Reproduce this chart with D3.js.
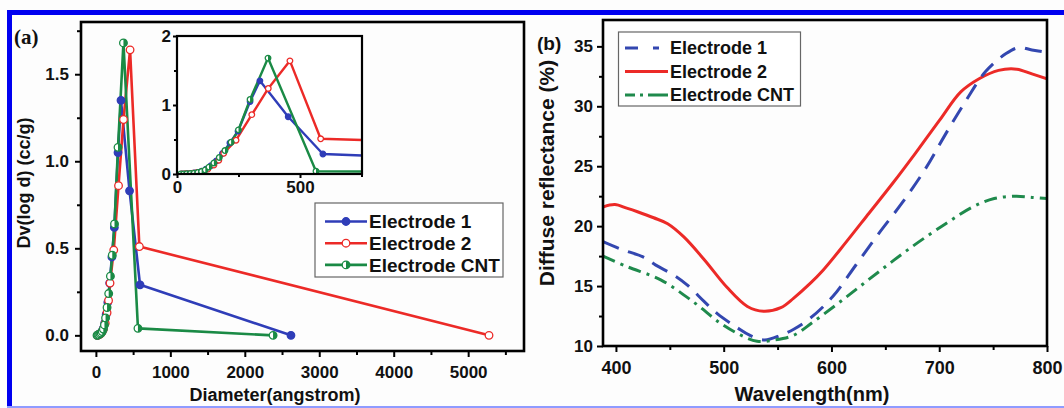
<!DOCTYPE html>
<html><head><meta charset="utf-8">
<script src="https://cdn.jsdelivr.net/npm/d3@7"></script>
<style>
body{margin:0;background:#fff;}
svg{display:block;}
</style></head><body>
<svg id="c" width="1064" height="408"></svg>
<script>
// ---------- DATA ----------
const poreNames = ["Electrode 1", "Electrode 2", "Electrode CNT"];
// Diameter (angstrom), Dv(log d) (cc/g)
const poreE1 = [[20,0],[30,0.003],[42,0.006],[55,0.01],[70,0.016],[85,0.025],[100,0.04],[118,0.07],[138,0.12],[160,0.19],[185,0.3],[215,0.45],[248,0.62],[297,1.05],[337,1.35],[452,0.83],[593,0.29],[2620,0]];
const poreE2 = [[20,0],[35,0.003],[50,0.006],[65,0.01],[80,0.018],[100,0.035],[125,0.07],[150,0.13],[170,0.2],[190,0.3],[240,0.49],[304,0.86],[371,1.24],[459,1.64],[584,0.51],[5280,0]];
const poreCNT = [[15,0],[27,0.002],[40,0.004],[55,0.008],[70,0.013],[85,0.022],[100,0.036],[115,0.06],[130,0.1],[150,0.16],[172,0.24],[195,0.34],[220,0.46],[250,0.64],[297,1.08],[370,1.68],[565,0.04],[2380,0]];
const poreXTicks = [0,1000,2000,3000,4000,5000];
const poreXMinor = [500,1500,2500,3500,4500,5500];
const poreYTicks = [0,0.5,1.0,1.5];
const poreYMinor = [0.25,0.75,1.25,1.75];
const insetXTicks = [0,500];
const insetXMinor = [250,750];
const insetYTicks = [0,1,2];
const insetYMinor = [0.5,1.5];

// Wavelength (nm), Diffuse reflectance (%)
const reflNames = ["Electrode 1", "Electrode 2", "Electrode CNT"];
const reflE1 = [[388,18.7],[404,18.1],[426,17.4],[437,16.75],[454,15.9],[466,15.1],[482,13.7],[494,12.7],[513,11.5],[524,10.9],[538,10.5],[553,10.9],[565,11.4],[580,12.3],[601,14.1],[623,16.8],[644,19.4],[666,22.0],[688,24.9],[706,27.7],[725,30.5],[743,32.9],[762,34.4],[774,34.9],[786,34.7],[800,34.5]];
const reflE2 = [[388,21.6],[399,21.8],[410,21.5],[420,21.2],[435,20.7],[448,20.2],[463,19.1],[482,17.2],[503,14.9],[522,13.3],[537,12.9],[553,13.2],[565,14.0],[580,15.2],[592,16.3],[613,18.6],[635,21.1],[657,23.6],[678,26.1],[700,28.8],[720,31.2],[737,32.3],[755,33.0],[772,33.1],[786,32.7],[800,32.3]];
const reflCNT = [[388,17.5],[411,16.6],[442,15.5],[473,13.6],[497,11.9],[516,10.9],[531,10.4],[547,10.5],[565,10.9],[583,12.0],[614,14.1],[644,16.2],[675,18.3],[706,20.2],[731,21.6],[751,22.3],[771,22.5],[786,22.4],[800,22.3]];
const reflXTicks = [400,500,600,700,800];
const reflXMinor = [450,550,650,750];
const reflYTicks = [10,15,20,25,30,35];
const reflYMinor = [12.5,17.5,22.5,27.5,32.5];

// ---------- STYLE ----------
const FONT = '"Liberation Sans", Arial, sans-serif';
const cBlue = "#2f3db8", cRed = "#ec2a27", cGreen = "#1a8a45";
const cBlueB = "#3347b0", cGreenB = "#1f8a4c";

const svg = d3.select("#c");
svg.append("rect").attr("width",1064).attr("height",408).attr("fill","#fdfdfd");
// blue border
svg.append("rect").attr("x",7).attr("y",10).attr("width",1057).attr("height",5).attr("fill","#0000f0");
svg.append("rect").attr("x",7).attr("y",10).attr("width",5).attr("height",398).attr("fill","#0000f0");
svg.append("rect").attr("x",7).attr("y",406).attr("width",1057).attr("height",2).attr("fill","#8f9bff");

function styleAxis(g, fs){
  g.select(".domain").remove();
  g.attr("font-size",null).attr("font-family",null);
  g.selectAll("line").attr("stroke","#000").attr("stroke-width",2);
  g.selectAll("text").style("font-family",FONT).style("font-weight","bold")
    .style("font-size",fs+"px").attr("fill","#111");
}

// ================= PANEL A =================
const A = {x0:81,x1:524,y0:22,y1:351};
const ax = d3.scaleLinear().domain([-200,5750]).range([A.x0,A.x1]);
const ay = d3.scaleLinear().domain([-0.09,1.8]).range([A.y1,A.y0]);
const gA = svg.append("g");

gA.append("g").attr("transform",`translate(0,${A.y1})`)
  .call(d3.axisBottom(ax).tickValues(poreXMinor).tickSize(4).tickFormat(""))
  .call(g=>styleAxis(g,17));
gA.append("g").attr("transform",`translate(0,${A.y1})`)
  .call(d3.axisBottom(ax).tickValues(poreXTicks).tickSize(6).tickPadding(9).tickFormat(d3.format("d")))
  .call(g=>styleAxis(g,17));
gA.append("g").attr("transform",`translate(${A.x0},0)`)
  .call(d3.axisLeft(ay).tickValues(poreYMinor).tickSize(4).tickFormat(""))
  .call(g=>styleAxis(g,17));
gA.append("g").attr("transform",`translate(${A.x0},0)`)
  .call(d3.axisLeft(ay).tickValues(poreYTicks).tickSize(6).tickPadding(6).tickFormat(d3.format(".1f")))
  .call(g=>styleAxis(g,17));

const poreSeries = [
  {name:poreNames[0], data:poreE1, color:cBlue, marker:"filled"},
  {name:poreNames[1], data:poreE2, color:cRed, marker:"open"},
  {name:poreNames[2], data:poreCNT, color:cGreen, marker:"half"}
];

function drawMarker(sel, type, color, r){
  if(type==="filled"){
    sel.append("circle").attr("r",r).attr("fill",color).attr("stroke",color).attr("stroke-width",1.2);
  } else if(type==="open"){
    sel.append("circle").attr("r",r).attr("fill","#fff").attr("stroke",color).attr("stroke-width",1.3);
  } else {
    sel.append("circle").attr("r",r).attr("fill","#fff").attr("stroke",color).attr("stroke-width",1.3);
    sel.append("path").attr("d",`M0,${-r} A${r},${r} 0 0 1 0,${r} Z`).attr("fill",color);
  }
}

function drawPore(g, xs, ys, r, lw){
  poreSeries.forEach(s=>{
    const line = d3.line().x(d=>xs(d[0])).y(d=>ys(d[1]));
    g.append("path").datum(s.data).attr("d",line).attr("fill","none")
      .attr("stroke",s.color).attr("stroke-width",lw).attr("stroke-linejoin","round");
  });
  poreSeries.forEach(s=>{
    g.selectAll(null).data(s.data).enter().append("g")
      .attr("transform",d=>`translate(${xs(d[0])},${ys(d[1])})`)
      .each(function(){ drawMarker(d3.select(this), s.marker, s.color, r); });
  });
}
drawPore(gA.append("g"), ax, ay, 3.8, 2.6);

gA.append("rect").attr("x",A.x0).attr("y",A.y0).attr("width",A.x1-A.x0).attr("height",A.y1-A.y0)
  .attr("fill","none").attr("stroke","#000").attr("stroke-width",2.6);

// inset
const I = {x0:177,x1:362,y0:36,y1:174};
const ix = d3.scaleLinear().domain([0,752]).range([I.x0,I.x1]);
const iy = d3.scaleLinear().domain([0,2]).range([I.y1,I.y0]);
svg.append("defs").append("clipPath").attr("id","insetClip").append("rect")
  .attr("x",I.x0).attr("y",I.y0-3).attr("width",I.x1-I.x0).attr("height",I.y1-I.y0+3);
gA.append("rect").attr("x",I.x0).attr("y",I.y0).attr("width",I.x1-I.x0).attr("height",I.y1-I.y0).attr("fill","#fff");
drawPore(gA.append("g").attr("clip-path","url(#insetClip)"), ix, iy, 2.8, 2.4);
gA.append("g").attr("transform",`translate(0,${I.y1})`)
  .call(d3.axisBottom(ix).tickValues(insetXMinor).tickSize(3).tickFormat(""))
  .call(g=>styleAxis(g,17));
gA.append("g").attr("transform",`translate(0,${I.y1})`)
  .call(d3.axisBottom(ix).tickValues(insetXTicks).tickSize(4).tickPadding(3).tickFormat(d3.format("d")))
  .call(g=>styleAxis(g,17));
gA.append("g").attr("transform",`translate(${I.x0},0)`)
  .call(d3.axisLeft(iy).tickValues(insetYMinor).tickSize(3).tickFormat(""))
  .call(g=>styleAxis(g,17));
gA.append("g").attr("transform",`translate(${I.x0},0)`)
  .call(d3.axisLeft(iy).tickValues(insetYTicks).tickSize(4).tickPadding(2).tickFormat(d3.format("d")))
  .call(g=>styleAxis(g,17));
gA.append("rect").attr("x",I.x0).attr("y",I.y0).attr("width",I.x1-I.x0).attr("height",I.y1-I.y0)
  .attr("fill","none").attr("stroke","#000").attr("stroke-width",2.2);

// legend A
const LA = {x:315,y:203,w:188,h:74};
gA.append("rect").attr("x",LA.x).attr("y",LA.y).attr("width",LA.w).attr("height",LA.h)
  .attr("fill","#fff").attr("stroke","#666").attr("stroke-width",1.2);
poreSeries.forEach((s,i)=>{
  const yy = 221.5 + i*21.7;
  gA.append("line").attr("x1",325).attr("x2",367).attr("y1",yy).attr("y2",yy)
    .attr("stroke",s.color).attr("stroke-width",2.6);
  const m = gA.append("g").attr("transform",`translate(346,${yy})`);
  drawMarker(m, s.marker, s.color, 3.8);
  gA.append("text").attr("x",369).attr("y",yy).attr("dy","0.36em").text(s.name)
    .style("font-family",FONT).style("font-weight","bold").style("font-size","19px").attr("fill","#111");
});

// titles A
gA.append("text").attr("transform","translate(30,183) rotate(-90)").attr("text-anchor","middle")
  .text("Dv(log d) (cc/g)").style("font-family",FONT).style("font-weight","bold").style("font-size","18px").attr("fill","#111");
gA.append("text").attr("x",275).attr("y",401).attr("text-anchor","middle")
  .text("Diameter(angstrom)").style("font-family",FONT).style("font-weight","bold").style("font-size","18px").attr("fill","#111");
gA.append("text").attr("x",14).attr("y",44).text("(a)")
  .style("font-family",'"Liberation Serif","Times New Roman",serif').style("font-weight","bold").style("font-size","21px").attr("fill","#111");

// ================= PANEL B =================
const B = {x0:603,x1:1047,y0:20,y1:346};
const bx = d3.scaleLinear().domain([388,800]).range([B.x0,B.x1]);
const by = d3.scaleLinear().domain([10,37.2]).range([B.y1,B.y0]);
const gB = svg.append("g");

gB.append("g").attr("transform",`translate(0,${B.y1})`)
  .call(d3.axisBottom(bx).tickValues(reflXMinor).tickSize(4).tickFormat(""))
  .call(g=>styleAxis(g,18));
gB.append("g").attr("transform",`translate(0,${B.y1})`)
  .call(d3.axisBottom(bx).tickValues(reflXTicks).tickSize(6).tickPadding(9).tickFormat(d3.format("d")))
  .call(g=>styleAxis(g,18));
gB.append("g").attr("transform",`translate(${B.x0},0)`)
  .call(d3.axisLeft(by).tickValues(reflYMinor).tickSize(4).tickFormat(""))
  .call(g=>styleAxis(g,17));
gB.append("g").attr("transform",`translate(${B.x0},0)`)
  .call(d3.axisLeft(by).tickValues(reflYTicks).tickSize(6).tickPadding(4).tickFormat(d3.format("d")))
  .call(g=>styleAxis(g,17));

const reflSeries = [
  {name:reflNames[0], data:reflE1, color:cBlueB, dash:"17,10", legendDash:"13,15,6,20"},
  {name:reflNames[1], data:reflE2, color:cRed, dash:null, legendDash:null},
  {name:reflNames[2], data:reflCNT, color:cGreenB, dash:"13,6,3,6", legendDash:"10,5,3,5,20"}
];
svg.append("defs").append("clipPath").attr("id","bClip").append("rect")
  .attr("x",B.x0).attr("y",B.y0).attr("width",B.x1-B.x0).attr("height",B.y1-B.y0);
const gBl = gB.append("g").attr("clip-path","url(#bClip)");
const drawOrder = [1,0,2];
drawOrder.forEach(i=>{
  const s = reflSeries[i];
  const line = d3.line().x(d=>bx(d[0])).y(d=>by(d[1])).curve(d3.curveCatmullRom.alpha(0.5));
  gBl.append("path").datum(s.data).attr("d",line).attr("fill","none")
    .attr("stroke",s.color).attr("stroke-width",3).attr("stroke-dasharray",s.dash);
});
gB.append("rect").attr("x",B.x0).attr("y",B.y0).attr("width",B.x1-B.x0).attr("height",B.y1-B.y0)
  .attr("fill","none").attr("stroke","#000").attr("stroke-width",2.6);

// legend B
const LB = {x:618.5,y:32,w:182,h:74};
gB.append("rect").attr("x",LB.x).attr("y",LB.y).attr("width",LB.w).attr("height",LB.h)
  .attr("fill","#fff").attr("stroke","#666").attr("stroke-width",1.2);
reflSeries.forEach((s,i)=>{
  const yy = 48 + i*23.5;
  gB.append("line").attr("x1",625).attr("x2",668).attr("y1",yy).attr("y2",yy)
    .attr("stroke",s.color).attr("stroke-width",3).attr("stroke-dasharray",s.legendDash);
  gB.append("text").attr("x",670).attr("y",yy).attr("dy","0.36em").text(s.name)
    .style("font-family",FONT).style("font-weight","bold").style("font-size","18px").attr("fill","#111");
});

gB.append("text").attr("transform","translate(554,173) rotate(-90)").attr("text-anchor","middle")
  .text("Diffuse reflectance (%)").style("font-family",FONT).style("font-weight","bold").style("font-size","21px").attr("fill","#111");
gB.append("text").attr("x",812).attr("y",401).attr("text-anchor","middle")
  .text("Wavelength(nm)").style("font-family",FONT).style("font-weight","bold").style("font-size","20px").attr("fill","#111");
gB.append("text").attr("x",537).attr("y",50).text("(b)")
  .style("font-family",FONT).style("font-weight","bold").style("font-size","19px").attr("fill","#111");
</script>
</body></html>
